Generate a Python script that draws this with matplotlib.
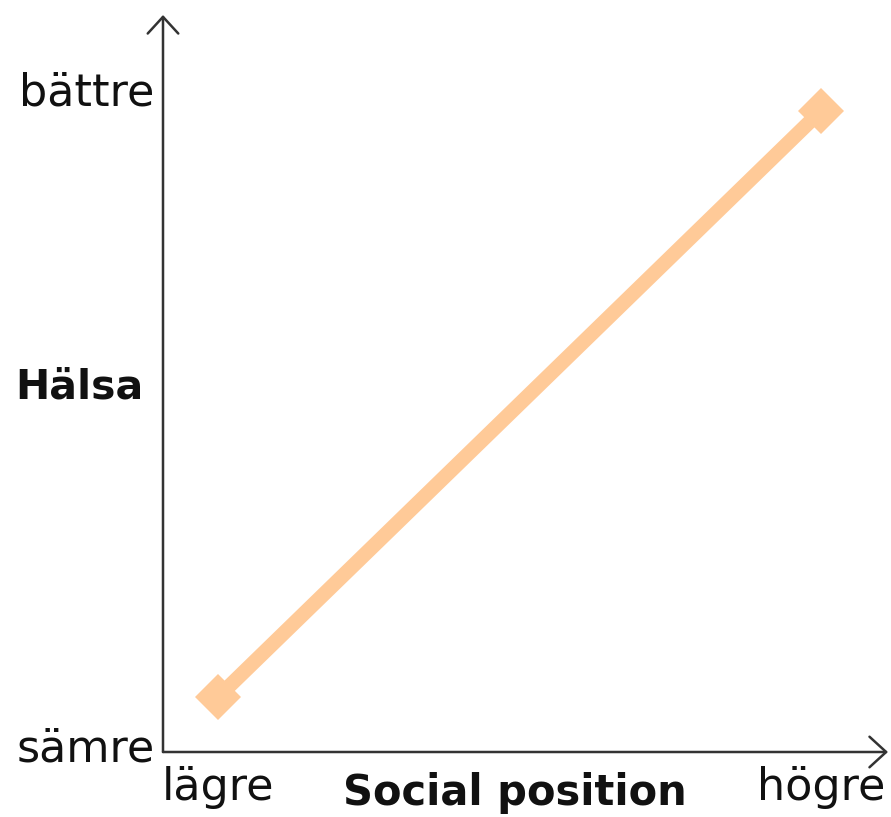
import matplotlib.pyplot as plt
from matplotlib.transforms import blended_transform_factory

# positions on a 0-10 style scale
social = [1, 9]
health = [1, 9]
x_ticks = [1, 9]
x_labels = ["lägre", "högre"]
y_ticks = [0.35, 9.3]
y_labels = ["sämre", "bättre"]

peach = "#FFCA98"
plt.rcParams["font.family"] = ["DejaVu Sans"]

fig = plt.figure(figsize=(8.91, 8.17), dpi=100)
ax = fig.add_axes([163 / 891, 65 / 817, 725 / 891, 737 / 817])

ax.plot(social, health, color=peach, lw=10.5, solid_capstyle="butt", zorder=2)
ax.plot(social, health, "D", color=peach, ms=23, mew=0, zorder=3)

ax.set_xlim(0.27, 9.89)
ax.set_ylim(0.25, 10.31)

for s in ax.spines.values():
    s.set_visible(False)

# axis arrows
for end in [(0, 1), (1, 0)]:
    ax.annotate("", xy=end, xytext=(0, 0), xycoords="axes fraction",
                arrowprops=dict(arrowstyle="->,head_length=0.6,head_width=0.55",
                                color="#333333", lw=1.8, mutation_scale=20,
                                shrinkA=0, shrinkB=0),
                annotation_clip=False)

ax.set_xticks(x_ticks)
ax.set_xticklabels(x_labels)
ax.set_yticks(y_ticks)
ax.set_yticklabels(y_labels)
ax.tick_params(length=0, labelsize=32, colors="#111111")
ax.tick_params(axis="x", pad=10)
ax.tick_params(axis="y", pad=6)

tx = blended_transform_factory(ax.transAxes, fig.transFigure)
ax.text(0.485, 24 / 817, "Social position", transform=tx, ha="center", va="center",
        fontsize=30, fontweight="bold", color="#111111")
ty = blended_transform_factory(fig.transFigure, ax.transAxes)
ax.text(15 / 891, 0.495, "Hälsa", transform=ty, ha="left", va="center",
        fontsize=29.5, fontweight="bold", color="#111111")

fig.savefig("out.png", dpi=100)
